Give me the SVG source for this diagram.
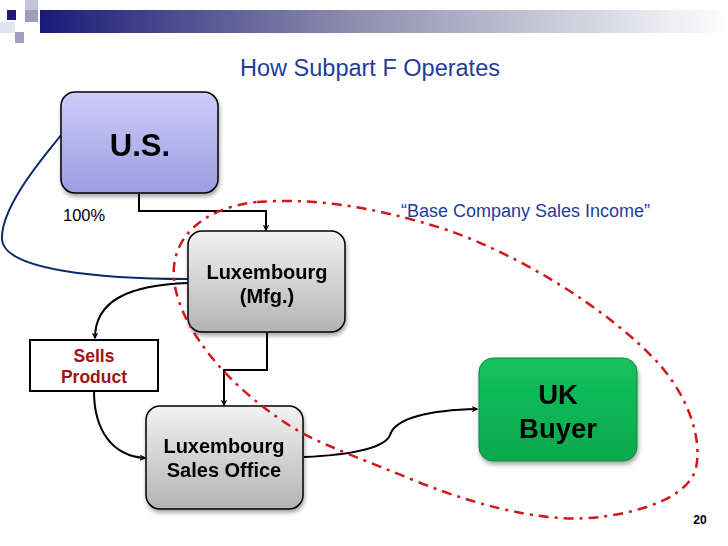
<svg xmlns="http://www.w3.org/2000/svg" width="728" height="546" viewBox="0 0 728 546">
<defs>
<linearGradient id="bar" x1="0" y1="0" x2="1" y2="0">
<stop offset="0" stop-color="#1a1a78"/><stop offset="0.45" stop-color="#8c8cae"/><stop offset="1" stop-color="#ffffff"/>
</linearGradient>
<linearGradient id="gUS" x1="0" y1="0" x2="0" y2="1"><stop offset="0" stop-color="#cdcdfb"/><stop offset="1" stop-color="#9c9ce0"/></linearGradient>
<linearGradient id="gGray" x1="0" y1="0" x2="0" y2="1"><stop offset="0" stop-color="#f2f2f2"/><stop offset="1" stop-color="#b3b3b3"/></linearGradient>
<linearGradient id="gGreen" x1="0" y1="0" x2="0" y2="1"><stop offset="0" stop-color="#14c25e"/><stop offset="1" stop-color="#0aa84c"/></linearGradient>
<filter id="sh" x="-10%" y="-10%" width="130%" height="130%"><feDropShadow dx="1" dy="3" stdDeviation="2" flood-color="#000" flood-opacity="0.35"/></filter>
<marker id="arr" viewBox="0 0 10 10" refX="9" refY="5" markerWidth="6" markerHeight="6" orient="auto" markerUnits="userSpaceOnUse">
<path d="M1,1 L9,5 L1,9" fill="none" stroke="#000" stroke-width="2"/>
</marker>
<style>
.node{stroke:#000;stroke-width:1.5}
.lbl{font-family:"Liberation Sans",Arial,sans-serif;font-weight:bold;text-anchor:middle;fill:#000}
.conn{fill:none;stroke:#000;stroke-width:2}
</style>
</defs>
<rect width="728" height="546" fill="#fff"/>
<g id="header">
<rect x="40" y="10" width="688" height="23" fill="url(#bar)"/>
<rect x="25" y="0" width="13" height="10" fill="#c4c4d8"/>
<rect x="25" y="10" width="13" height="12" fill="#9c9cbc"/>
<rect x="7" y="10" width="9" height="10" fill="#1a1a78"/>
<rect x="15" y="32" width="9" height="11" fill="#a0a0c0"/>
<rect x="0" y="22" width="15" height="11" fill="#e4e4ee"/>
</g>
<text x="370" y="76" font-family="Liberation Sans,Arial,sans-serif" font-size="23.5" fill="#1f3c99" text-anchor="middle">How Subpart F Operates</text>
<text x="63" y="221" font-family="Liberation Sans,Arial,sans-serif" font-size="16.5" fill="#000">100%</text>
<text x="401" y="217" font-family="Liberation Sans,Arial,sans-serif" font-size="18" fill="#1f3c99">“Base Company Sales Income”</text>
<g id="connectors">
<path d="M61 135 C50 150,0 205,2 240 C5 270,100 279,188 279" fill="none" stroke="#0a2a6a" stroke-width="2"/>
<path class="conn" d="M139 194 V211 H266 V230" marker-end="url(#arr)"/>
<path class="conn" d="M188 283 C130 285,95 300,95 338" marker-end="url(#arr)"/>
<path class="conn" d="M267 333 V370 H224 V405" marker-end="url(#arr)"/>
<path class="conn" d="M94 391 C94 430,112 456,145 458" marker-end="url(#arr)"/>
<path class="conn" d="M304 457 C350 455,385 448,390 435 C395 418,430 410,477 409" marker-end="url(#arr)"/>
</g>
<g id="us" filter="url(#sh)"><rect class="node" x="61" y="92" width="157" height="101" rx="14" fill="url(#gUS)" stroke="#bbb" stroke-width="1"/>
<text class="lbl" x="140" y="156" font-size="31">U.S.</text></g>
<g id="lux-mfg" filter="url(#sh)"><rect class="node" x="188" y="231" width="157" height="101" rx="14" fill="url(#gGray)"/>
<text class="lbl" x="267" y="279" font-size="20">Luxembourg</text><text class="lbl" x="267" y="303" font-size="20">(Mfg.)</text></g>
<g id="sells"><rect x="30" y="340" width="128" height="51" fill="#fff" stroke="#000" stroke-width="2"/>
<text class="lbl" x="94" y="362" font-size="17.5" style="fill:#a01414">Sells</text><text class="lbl" x="94" y="383" font-size="17.5" style="fill:#a01414">Product</text></g>
<g id="lux-sales" filter="url(#sh)"><rect class="node" x="146" y="406" width="157" height="103" rx="14" fill="url(#gGray)"/>
<text class="lbl" x="224" y="453" font-size="20">Luxembourg</text><text class="lbl" x="224" y="477" font-size="20">Sales Office</text></g>
<g id="uk" filter="url(#sh)"><rect x="479" y="358" width="158" height="103" rx="14" fill="url(#gGreen)" stroke="#0a8a3c" stroke-width="1"/>
<text class="lbl" x="558" y="404" font-size="27.5">UK</text><text class="lbl" x="558" y="438" font-size="27.5">Buyer</text></g>
<path id="boundary" d="M257 202 C310 198,370 205,447 230 C520 255,610 310,660 365 C690 400,702 440,696 468 C688 498,640 512,600 517 C560 522,500 515,413 480 C370 462,330 448,300 432 C230 390,180 330,174 280 C170 240,200 208,257 202 Z" fill="none" stroke="#d01818" stroke-width="2.5" stroke-dasharray="10 6 3 6"/>
<text x="700" y="524" font-family="Liberation Sans,Arial,sans-serif" font-size="12" font-weight="bold" text-anchor="middle">20</text>
</svg>
